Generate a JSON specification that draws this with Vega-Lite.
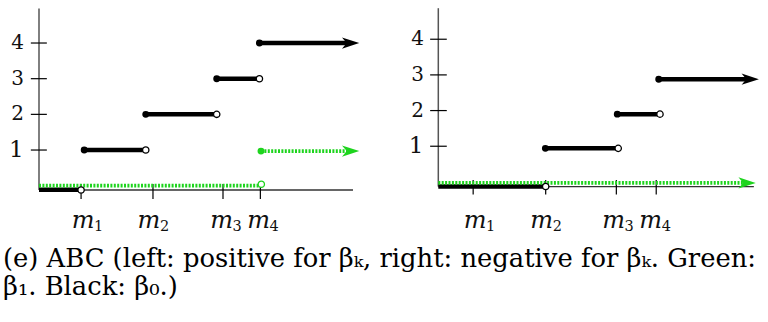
{
  "$schema": "https://vega.github.io/schema/vega-lite/v6.json",
  "width": 768,
  "height": 322,
  "padding": 0,
  "autosize": {"type": "none"},
  "background": "white",
  "config": {"view": {"stroke": null}},
  "title": {
    "text": ["(e) ABC (left: positive for βₖ, right: negative for βₖ. Green:", "β₁. Black: β₀.)"],
    "orient": "bottom", "anchor": "start", "frame": "group", "offset": -75, "dx": 3,
    "font": "DejaVu Serif", "fontSize": 25.8, "fontWeight": "normal", "lineHeight": 28, "color": "#000000"
  },
  "datasets": {
    "axes": [
      {"panel": "L", "orient": "h", "x": 0, "x2": 10.0, "y": -0.12},
      {"panel": "L", "orient": "v", "x": 0, "y": -0.12, "y2": 4.97},
      {"panel": "R", "orient": "h", "x": 0, "x2": 10.05, "y": -0.13},
      {"panel": "R", "orient": "v", "x": 0, "y": -0.13, "y2": 4.87}
    ],
    "yticks": [
      {"panel": "L", "value": 1, "label": "1"}, {"panel": "L", "value": 2, "label": "2"},
      {"panel": "L", "value": 3, "label": "3"}, {"panel": "L", "value": 4, "label": "4"},
      {"panel": "R", "value": 1, "label": "1"}, {"panel": "R", "value": 2, "label": "2"},
      {"panel": "R", "value": 3, "label": "3"}, {"panel": "R", "value": 4, "label": "4"}
    ],
    "xticks": [
      {"panel": "L", "value": 1.34, "lx": 1.53, "sub": "1"},
      {"panel": "L", "value": 3.63, "lx": 3.63, "sub": "2"},
      {"panel": "L", "value": 5.86, "lx": 5.94, "sub": "3"},
      {"panel": "L", "value": 7.05, "lx": 7.12, "sub": "4"},
      {"panel": "R", "value": 1.11, "lx": 1.30, "sub": "1"},
      {"panel": "R", "value": 3.42, "lx": 3.42, "sub": "2"},
      {"panel": "R", "value": 5.67, "lx": 5.71, "sub": "3"},
      {"panel": "R", "value": 6.94, "lx": 6.89, "sub": "4"}
    ],
    "segs": [
      {"panel": "L", "series": "black", "end": "open", "x": 0, "x2": 1.34, "y": -0.11},
      {"panel": "L", "series": "black", "end": "open", "x": 1.44, "x2": 3.40, "y": 1},
      {"panel": "L", "series": "black", "end": "open", "x": 3.40, "x2": 5.66, "y": 2},
      {"panel": "L", "series": "black", "end": "open", "x": 5.66, "x2": 7.02, "y": 3},
      {"panel": "L", "series": "black", "end": "arrow", "x": 7.02, "x2": 10.2, "y": 4},
      {"panel": "L", "series": "green", "end": "open", "x": 0, "x2": 7.08, "y": 0},
      {"panel": "L", "series": "green", "end": "arrow", "x": 7.07, "x2": 10.2, "y": 0.97},
      {"panel": "R", "series": "black", "end": "open", "x": 0, "x2": 3.42, "y": -0.13},
      {"panel": "R", "series": "black", "end": "open", "x": 3.41, "x2": 5.73, "y": 0.94},
      {"panel": "R", "series": "black", "end": "open", "x": 5.70, "x2": 7.06, "y": 1.90},
      {"panel": "R", "series": "black", "end": "arrow", "x": 7.02, "x2": 10.21, "y": 2.88},
      {"panel": "R", "series": "green", "end": "arrow", "x": 0, "x2": 10.11, "y": -0.03}
    ],
    "points": [
      {"panel": "L", "series": "black", "kind": "open", "x": 1.34, "y": -0.12},
      {"panel": "L", "series": "black", "kind": "filled", "x": 1.44, "y": 1},
      {"panel": "L", "series": "black", "kind": "open", "x": 3.40, "y": 1},
      {"panel": "L", "series": "black", "kind": "filled", "x": 3.40, "y": 2},
      {"panel": "L", "series": "black", "kind": "open", "x": 5.66, "y": 2},
      {"panel": "L", "series": "black", "kind": "filled", "x": 5.66, "y": 3},
      {"panel": "L", "series": "black", "kind": "open", "x": 7.02, "y": 3},
      {"panel": "L", "series": "black", "kind": "filled", "x": 7.02, "y": 4},
      {"panel": "L", "series": "black", "kind": "arrow", "x": 10.2, "y": 4},
      {"panel": "L", "series": "green", "kind": "open", "x": 7.08, "y": 0.04},
      {"panel": "L", "series": "green", "kind": "filled", "x": 7.07, "y": 0.97},
      {"panel": "L", "series": "green", "kind": "arrow", "x": 10.2, "y": 0.97},
      {"panel": "R", "series": "black", "kind": "open", "x": 3.42, "y": -0.13},
      {"panel": "R", "series": "black", "kind": "filled", "x": 3.41, "y": 0.94},
      {"panel": "R", "series": "black", "kind": "open", "x": 5.73, "y": 0.94},
      {"panel": "R", "series": "black", "kind": "filled", "x": 5.70, "y": 1.90},
      {"panel": "R", "series": "black", "kind": "open", "x": 7.06, "y": 1.90},
      {"panel": "R", "series": "black", "kind": "filled", "x": 7.02, "y": 2.88},
      {"panel": "R", "series": "black", "kind": "arrow", "x": 10.21, "y": 2.88},
      {"panel": "R", "series": "green", "kind": "arrow", "x": 10.11, "y": -0.03}
    ]
  },
  "resolve": {"scale": {"x": "independent", "y": "independent"}},
  "layer": [
    {
      "layer": [
        {"data": {"name": "axes"}, "transform": [{"filter": "datum.panel==='L' && datum.orient==='h'"}],
         "mark": {"type": "rule", "color": "#333333", "strokeWidth": 1.3},
         "encoding": {"x": {"field": "x", "type": "quantitative", "scale": {"domain": [-1.242, 23.217], "nice": false, "zero": false}, "axis": null},
                      "x2": {"field": "x2"},
                      "y": {"field": "y", "type": "quantitative", "scale": {"domain": [-3.821, 5.206], "nice": false, "zero": false}, "axis": null}}},
        {"data": {"name": "axes"}, "transform": [{"filter": "datum.panel==='L' && datum.orient==='v'"}],
         "mark": {"type": "rule", "color": "#555555", "strokeWidth": 1.5},
         "encoding": {"x": {"field": "x", "type": "quantitative", "scale": {"domain": [-1.242, 23.217], "nice": false, "zero": false}, "axis": null},
                      "y": {"field": "y", "type": "quantitative", "scale": {"domain": [-3.821, 5.206], "nice": false, "zero": false}, "axis": null},
                      "y2": {"field": "y2"}}},
        {"data": {"name": "yticks"}, "transform": [{"filter": "datum.panel==='L'"}],
         "mark": {"type": "rule", "color": "#000000", "strokeWidth": 1.2},
         "encoding": {"x": {"datum": -0.26, "type": "quantitative", "scale": {"domain": [-1.242, 23.217], "nice": false, "zero": false}, "axis": null},
                      "x2": {"datum": 0.25},
                      "y": {"field": "value", "type": "quantitative", "scale": {"domain": [-3.821, 5.206], "nice": false, "zero": false}, "axis": null}}},
        {"data": {"name": "xticks"}, "transform": [{"filter": "datum.panel==='L'"}],
         "mark": {"type": "rule", "color": "#000000", "strokeWidth": 1.2},
         "encoding": {"x": {"field": "value", "type": "quantitative", "scale": {"domain": [-1.242, 23.217], "nice": false, "zero": false}, "axis": null},
                      "y": {"datum": 0.05, "type": "quantitative", "scale": {"domain": [-3.821, 5.206], "nice": false, "zero": false}, "axis": null},
                      "y2": {"datum": -0.37}}},
        {"data": {"name": "segs"}, "transform": [{"filter": "datum.panel==='L' && datum.series==='black' && datum.end==='open'"}],
         "mark": {"type": "rule", "color": "#000000", "strokeWidth": 4.5},
         "encoding": {"x": {"field": "x", "type": "quantitative", "scale": {"domain": [-1.242, 23.217], "nice": false, "zero": false}, "axis": null},
                      "x2": {"field": "x2"},
                      "y": {"field": "y", "type": "quantitative", "scale": {"domain": [-3.821, 5.206], "nice": false, "zero": false}, "axis": null}}},
        {"data": {"name": "segs"}, "transform": [{"filter": "datum.panel==='L' && datum.series==='black' && datum.end==='arrow'"}],
         "mark": {"type": "rule", "color": "#000000", "strokeWidth": 4.5, "x2Offset": -10},
         "encoding": {"x": {"field": "x", "type": "quantitative", "scale": {"domain": [-1.242, 23.217], "nice": false, "zero": false}, "axis": null},
                      "x2": {"field": "x2"},
                      "y": {"field": "y", "type": "quantitative", "scale": {"domain": [-3.821, 5.206], "nice": false, "zero": false}, "axis": null}}},
        {"data": {"name": "segs"}, "transform": [{"filter": "datum.panel==='L' && datum.series==='green' && datum.end==='open'"}],
         "mark": {"type": "rule", "color": "#1ed41e", "strokeWidth": 3.8, "strokeDash": [2, 1.4]},
         "encoding": {"x": {"field": "x", "type": "quantitative", "scale": {"domain": [-1.242, 23.217], "nice": false, "zero": false}, "axis": null},
                      "x2": {"field": "x2"},
                      "y": {"field": "y", "type": "quantitative", "scale": {"domain": [-3.821, 5.206], "nice": false, "zero": false}, "axis": null}}},
        {"data": {"name": "segs"}, "transform": [{"filter": "datum.panel==='L' && datum.series==='green' && datum.end==='arrow'"}],
         "mark": {"type": "rule", "color": "#1ed41e", "strokeWidth": 3.8, "strokeDash": [2, 1.4], "x2Offset": -10},
         "encoding": {"x": {"field": "x", "type": "quantitative", "scale": {"domain": [-1.242, 23.217], "nice": false, "zero": false}, "axis": null},
                      "x2": {"field": "x2"},
                      "y": {"field": "y", "type": "quantitative", "scale": {"domain": [-3.821, 5.206], "nice": false, "zero": false}, "axis": null}}},
        {"data": {"name": "points"}, "transform": [{"filter": "datum.panel==='L' && datum.kind==='open'"}],
         "mark": {"type": "point", "shape": "circle", "filled": true, "fill": "white", "size": 40, "strokeWidth": 1.3, "opacity": 1},
         "encoding": {"x": {"field": "x", "type": "quantitative", "scale": {"domain": [-1.242, 23.217], "nice": false, "zero": false}, "axis": null},
                      "y": {"field": "y", "type": "quantitative", "scale": {"domain": [-3.821, 5.206], "nice": false, "zero": false}, "axis": null},
                      "stroke": {"field": "series", "type": "nominal", "scale": {"domain": ["black", "green"], "range": ["#000000", "#1ed41e"]}, "legend": null}}},
        {"data": {"name": "points"}, "transform": [{"filter": "datum.panel==='L' && datum.kind==='filled'"}],
         "mark": {"type": "point", "shape": "circle", "filled": true, "size": 48, "opacity": 1},
         "encoding": {"x": {"field": "x", "type": "quantitative", "scale": {"domain": [-1.242, 23.217], "nice": false, "zero": false}, "axis": null},
                      "y": {"field": "y", "type": "quantitative", "scale": {"domain": [-3.821, 5.206], "nice": false, "zero": false}, "axis": null},
                      "color": {"field": "series", "type": "nominal", "scale": {"domain": ["black", "green"], "range": ["#000000", "#1ed41e"]}, "legend": null}}},
        {"data": {"name": "points"}, "transform": [{"filter": "datum.panel==='L' && datum.kind==='arrow'"}],
         "mark": {"type": "point", "shape": "M0,0L-2,-0.65L-1.45,0L-2,0.65Z", "filled": true, "size": 300, "opacity": 1},
         "encoding": {"x": {"field": "x", "type": "quantitative", "scale": {"domain": [-1.242, 23.217], "nice": false, "zero": false}, "axis": null},
                      "y": {"field": "y", "type": "quantitative", "scale": {"domain": [-3.821, 5.206], "nice": false, "zero": false}, "axis": null},
                      "color": {"field": "series", "type": "nominal", "scale": {"domain": ["black", "green"], "range": ["#000000", "#1ed41e"]}, "legend": null}}},
        {"data": {"name": "yticks"}, "transform": [{"filter": "datum.panel==='L' && datum.label!=='1'"}],
         "mark": {"type": "text", "font": "DejaVu Serif", "fontSize": 20, "align": "center", "baseline": "middle", "color": "#111111"},
         "encoding": {"x": {"datum": -0.685, "type": "quantitative", "scale": {"domain": [-1.242, 23.217], "nice": false, "zero": false}, "axis": null},
                      "y": {"field": "value", "type": "quantitative", "scale": {"domain": [-3.821, 5.206], "nice": false, "zero": false}, "axis": null},
                      "text": {"field": "label"}}},
        {"data": {"name": "yticks"}, "transform": [{"filter": "datum.panel==='L' && datum.label==='1'"}],
         "mark": {"type": "text", "font": "DejaVu Serif", "fontSize": 23, "align": "center", "baseline": "middle", "color": "#111111"},
         "encoding": {"x": {"datum": -0.72, "type": "quantitative", "scale": {"domain": [-1.242, 23.217], "nice": false, "zero": false}, "axis": null},
                      "y": {"field": "value", "type": "quantitative", "scale": {"domain": [-3.821, 5.206], "nice": false, "zero": false}, "axis": null},
                      "text": {"field": "label"}}},
        {"data": {"name": "xticks"}, "transform": [{"filter": "datum.panel==='L'"}],
         "mark": {"type": "text", "font": "DejaVu Serif", "fontStyle": "italic", "fontSize": 24, "align": "center", "baseline": "alphabetic", "dx": -4, "color": "#111111"},
         "encoding": {"x": {"field": "lx", "type": "quantitative", "scale": {"domain": [-1.242, 23.217], "nice": false, "zero": false}, "axis": null},
                      "y": {"datum": -1.19, "type": "quantitative", "scale": {"domain": [-3.821, 5.206], "nice": false, "zero": false}, "axis": null},
                      "text": {"value": "m"}}},
        {"data": {"name": "xticks"}, "transform": [{"filter": "datum.panel==='L'"}],
         "mark": {"type": "text", "font": "DejaVu Serif", "fontSize": 14.5, "align": "left", "baseline": "alphabetic", "dx": 7, "dy": 3, "color": "#111111"},
         "encoding": {"x": {"field": "lx", "type": "quantitative", "scale": {"domain": [-1.242, 23.217], "nice": false, "zero": false}, "axis": null},
                      "y": {"datum": -1.19, "type": "quantitative", "scale": {"domain": [-3.821, 5.206], "nice": false, "zero": false}, "axis": null},
                      "text": {"field": "sub"}}}
      ]
    },
    {
      "layer": [
        {"data": {"name": "axes"}, "transform": [{"filter": "datum.panel==='R' && datum.orient==='h'"}],
         "mark": {"type": "rule", "color": "#333333", "strokeWidth": 1.3},
         "encoding": {"x": {"field": "x", "type": "quantitative", "scale": {"domain": [-13.959, 10.5], "nice": false, "zero": false}, "axis": null},
                      "x2": {"field": "x2"},
                      "y": {"field": "y", "type": "quantitative", "scale": {"domain": [-3.928, 5.10], "nice": false, "zero": false}, "axis": null}}},
        {"data": {"name": "axes"}, "transform": [{"filter": "datum.panel==='R' && datum.orient==='v'"}],
         "mark": {"type": "rule", "color": "#555555", "strokeWidth": 1.5},
         "encoding": {"x": {"field": "x", "type": "quantitative", "scale": {"domain": [-13.959, 10.5], "nice": false, "zero": false}, "axis": null},
                      "y": {"field": "y", "type": "quantitative", "scale": {"domain": [-3.928, 5.10], "nice": false, "zero": false}, "axis": null},
                      "y2": {"field": "y2"}}},
        {"data": {"name": "yticks"}, "transform": [{"filter": "datum.panel==='R'"}],
         "mark": {"type": "rule", "color": "#000000", "strokeWidth": 1.2},
         "encoding": {"x": {"datum": -0.26, "type": "quantitative", "scale": {"domain": [-13.959, 10.5], "nice": false, "zero": false}, "axis": null},
                      "x2": {"datum": 0.27},
                      "y": {"field": "value", "type": "quantitative", "scale": {"domain": [-3.928, 5.10], "nice": false, "zero": false}, "axis": null}}},
        {"data": {"name": "xticks"}, "transform": [{"filter": "datum.panel==='R'"}],
         "mark": {"type": "rule", "color": "#000000", "strokeWidth": 1.2},
         "encoding": {"x": {"field": "value", "type": "quantitative", "scale": {"domain": [-13.959, 10.5], "nice": false, "zero": false}, "axis": null},
                      "y": {"datum": 0.05, "type": "quantitative", "scale": {"domain": [-3.928, 5.10], "nice": false, "zero": false}, "axis": null},
                      "y2": {"datum": -0.35}}},
        {"data": {"name": "segs"}, "transform": [{"filter": "datum.panel==='R' && datum.series==='black' && datum.end==='open'"}],
         "mark": {"type": "rule", "color": "#000000", "strokeWidth": 4.5},
         "encoding": {"x": {"field": "x", "type": "quantitative", "scale": {"domain": [-13.959, 10.5], "nice": false, "zero": false}, "axis": null},
                      "x2": {"field": "x2"},
                      "y": {"field": "y", "type": "quantitative", "scale": {"domain": [-3.928, 5.10], "nice": false, "zero": false}, "axis": null}}},
        {"data": {"name": "segs"}, "transform": [{"filter": "datum.panel==='R' && datum.series==='black' && datum.end==='arrow'"}],
         "mark": {"type": "rule", "color": "#000000", "strokeWidth": 4.5, "x2Offset": -10},
         "encoding": {"x": {"field": "x", "type": "quantitative", "scale": {"domain": [-13.959, 10.5], "nice": false, "zero": false}, "axis": null},
                      "x2": {"field": "x2"},
                      "y": {"field": "y", "type": "quantitative", "scale": {"domain": [-3.928, 5.10], "nice": false, "zero": false}, "axis": null}}},
        {"data": {"name": "segs"}, "transform": [{"filter": "datum.panel==='R' && datum.series==='green' && datum.end==='arrow'"}],
         "mark": {"type": "rule", "color": "#1ed41e", "strokeWidth": 3.8, "strokeDash": [2, 1.4], "x2Offset": -10},
         "encoding": {"x": {"field": "x", "type": "quantitative", "scale": {"domain": [-13.959, 10.5], "nice": false, "zero": false}, "axis": null},
                      "x2": {"field": "x2"},
                      "y": {"field": "y", "type": "quantitative", "scale": {"domain": [-3.928, 5.10], "nice": false, "zero": false}, "axis": null}}},
        {"data": {"name": "points"}, "transform": [{"filter": "datum.panel==='R' && datum.kind==='open'"}],
         "mark": {"type": "point", "shape": "circle", "filled": true, "fill": "white", "size": 40, "strokeWidth": 1.3, "opacity": 1},
         "encoding": {"x": {"field": "x", "type": "quantitative", "scale": {"domain": [-13.959, 10.5], "nice": false, "zero": false}, "axis": null},
                      "y": {"field": "y", "type": "quantitative", "scale": {"domain": [-3.928, 5.10], "nice": false, "zero": false}, "axis": null},
                      "stroke": {"field": "series", "type": "nominal", "scale": {"domain": ["black", "green"], "range": ["#000000", "#1ed41e"]}, "legend": null}}},
        {"data": {"name": "points"}, "transform": [{"filter": "datum.panel==='R' && datum.kind==='filled'"}],
         "mark": {"type": "point", "shape": "circle", "filled": true, "size": 48, "opacity": 1},
         "encoding": {"x": {"field": "x", "type": "quantitative", "scale": {"domain": [-13.959, 10.5], "nice": false, "zero": false}, "axis": null},
                      "y": {"field": "y", "type": "quantitative", "scale": {"domain": [-3.928, 5.10], "nice": false, "zero": false}, "axis": null},
                      "color": {"field": "series", "type": "nominal", "scale": {"domain": ["black", "green"], "range": ["#000000", "#1ed41e"]}, "legend": null}}},
        {"data": {"name": "points"}, "transform": [{"filter": "datum.panel==='R' && datum.kind==='arrow'"}],
         "mark": {"type": "point", "shape": "M0,0L-2,-0.65L-1.45,0L-2,0.65Z", "filled": true, "size": 300, "opacity": 1},
         "encoding": {"x": {"field": "x", "type": "quantitative", "scale": {"domain": [-13.959, 10.5], "nice": false, "zero": false}, "axis": null},
                      "y": {"field": "y", "type": "quantitative", "scale": {"domain": [-3.928, 5.10], "nice": false, "zero": false}, "axis": null},
                      "color": {"field": "series", "type": "nominal", "scale": {"domain": ["black", "green"], "range": ["#000000", "#1ed41e"]}, "legend": null}}},
        {"data": {"name": "yticks"}, "transform": [{"filter": "datum.panel==='R' && datum.label!=='1'"}],
         "mark": {"type": "text", "font": "DejaVu Serif", "fontSize": 20, "align": "center", "baseline": "middle", "color": "#111111"},
         "encoding": {"x": {"datum": -0.66, "type": "quantitative", "scale": {"domain": [-13.959, 10.5], "nice": false, "zero": false}, "axis": null},
                      "y": {"field": "value", "type": "quantitative", "scale": {"domain": [-3.928, 5.10], "nice": false, "zero": false}, "axis": null},
                      "text": {"field": "label"}}},
        {"data": {"name": "yticks"}, "transform": [{"filter": "datum.panel==='R' && datum.label==='1'"}],
         "mark": {"type": "text", "font": "DejaVu Serif", "fontSize": 23, "align": "center", "baseline": "middle", "color": "#111111"},
         "encoding": {"x": {"datum": -0.71, "type": "quantitative", "scale": {"domain": [-13.959, 10.5], "nice": false, "zero": false}, "axis": null},
                      "y": {"field": "value", "type": "quantitative", "scale": {"domain": [-3.928, 5.10], "nice": false, "zero": false}, "axis": null},
                      "text": {"field": "label"}}},
        {"data": {"name": "xticks"}, "transform": [{"filter": "datum.panel==='R'"}],
         "mark": {"type": "text", "font": "DejaVu Serif", "fontStyle": "italic", "fontSize": 24, "align": "center", "baseline": "alphabetic", "dx": -4, "color": "#111111"},
         "encoding": {"x": {"field": "lx", "type": "quantitative", "scale": {"domain": [-13.959, 10.5], "nice": false, "zero": false}, "axis": null},
                      "y": {"datum": -1.30, "type": "quantitative", "scale": {"domain": [-3.928, 5.10], "nice": false, "zero": false}, "axis": null},
                      "text": {"value": "m"}}},
        {"data": {"name": "xticks"}, "transform": [{"filter": "datum.panel==='R'"}],
         "mark": {"type": "text", "font": "DejaVu Serif", "fontSize": 14.5, "align": "left", "baseline": "alphabetic", "dx": 7, "dy": 3, "color": "#111111"},
         "encoding": {"x": {"field": "lx", "type": "quantitative", "scale": {"domain": [-13.959, 10.5], "nice": false, "zero": false}, "axis": null},
                      "y": {"datum": -1.30, "type": "quantitative", "scale": {"domain": [-3.928, 5.10], "nice": false, "zero": false}, "axis": null},
                      "text": {"field": "sub"}}}
      ]
    }
  ]
}
